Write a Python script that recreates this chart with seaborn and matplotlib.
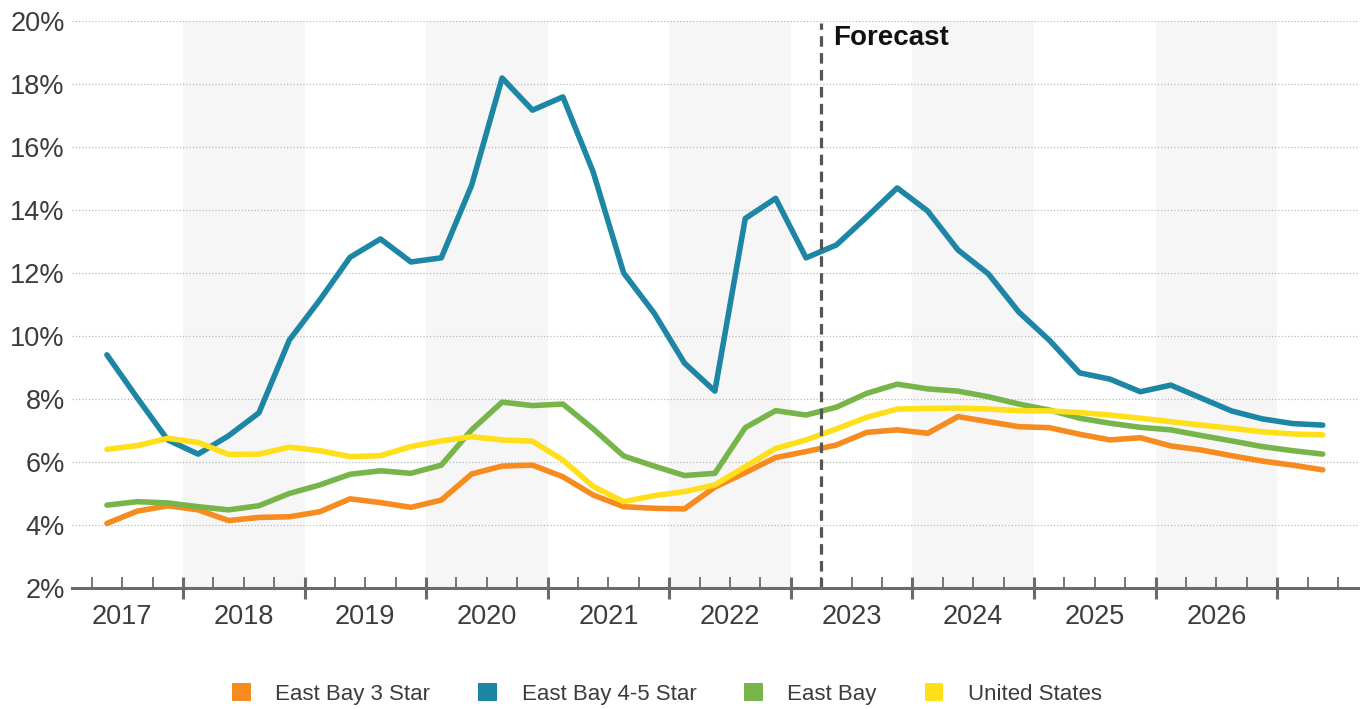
import matplotlib
matplotlib.use("Agg")
import matplotlib.pyplot as plt
import numpy as np
import pandas as pd
import seaborn as sns
from matplotlib.patches import Patch
from matplotlib.transforms import blended_transform_factory

# Quarterly vacancy rates, 2017 Q2 through 2027 Q2
quarters = [f"{2017 + k // 4} Q{k % 4 + 1}" for k in range(1, 42)]

east_bay_3_star = [
    4.05, 4.44, 4.61, 4.48, 4.14, 4.24, 4.26, 4.42, 4.83, 4.71, 4.56, 4.79,
    5.62, 5.87, 5.90, 5.53, 4.95, 4.58, 4.53, 4.51, 5.20, 5.66, 6.14, 6.33,
    6.54, 6.94, 7.02, 6.91, 7.44, 7.28, 7.12, 7.09, 6.88, 6.70, 6.77, 6.51,
    6.38, 6.20, 6.03, 5.90, 5.75,
]
east_bay_4_5_star = [
    9.40, 8.03, 6.70, 6.25, 6.83, 7.56, 9.87, 11.14, 12.50, 13.08, 12.35, 12.48,
    14.79, 18.19, 17.17, 17.59, 15.20, 12.00, 10.73, 9.14, 8.25, 13.73, 14.37, 12.48,
    12.89, 13.78, 14.70, 13.97, 12.73, 11.97, 10.76, 9.87, 8.83, 8.63, 8.23, 8.44,
    8.03, 7.62, 7.37, 7.22, 7.17,
]
east_bay = [
    4.63, 4.74, 4.70, 4.58, 4.48, 4.61, 5.00, 5.27, 5.61, 5.72, 5.64, 5.90,
    7.02, 7.90, 7.79, 7.84, 7.05, 6.19, 5.87, 5.57, 5.64, 7.09, 7.63, 7.49,
    7.74, 8.18, 8.47, 8.32, 8.25, 8.07, 7.84, 7.65, 7.39, 7.23, 7.10, 7.02,
    6.84, 6.67, 6.49, 6.36, 6.25,
]
united_states = [
    6.40, 6.52, 6.75, 6.62, 6.24, 6.25, 6.47, 6.36, 6.17, 6.20, 6.49, 6.67,
    6.80, 6.70, 6.66, 6.06, 5.22, 4.74, 4.93, 5.06, 5.27, 5.85, 6.43, 6.70,
    7.05, 7.42, 7.68, 7.70, 7.71, 7.68, 7.63, 7.62, 7.57, 7.49, 7.39, 7.28,
    7.17, 7.07, 6.96, 6.89, 6.86,
]

series_names = ["East Bay 3 Star", "East Bay 4-5 Star", "East Bay", "United States"]
series_colors = ["#F68B1F", "#1E86A5", "#77B54A", "#FFDE1A"]
years = list(range(2017, 2027))
y_ticks = [2, 4, 6, 8, 10, 12, 14, 16, 18, 20]
forecast_label = "Forecast"

sns.set_theme(style="white")
plt.rcParams["font.family"] = ["Liberation Sans", "DejaVu Sans"]

# Position on the axis: quarter index, 2017 Q1 = 0
def quarter_pos(label):
    year, q = label.split(" Q")
    return (int(year) - 2017) * 4 + int(q) - 1

wide = pd.DataFrame({
    "quarter": quarters,
    "East Bay 3 Star": east_bay_3_star,
    "East Bay 4-5 Star": east_bay_4_5_star,
    "East Bay": east_bay,
    "United States": united_states,
})
wide["pos"] = wide["quarter"].map(quarter_pos)
long = wide.melt(id_vars=["quarter", "pos"], var_name="series", value_name="rate")

fig = plt.figure(figsize=(13.68, 7.09), dpi=100)
ax = fig.add_axes([0.0524, 0.1707, 0.9403, 0.7997])

# alternating year bands
for k, yr in enumerate(years):
    if k % 2 == 1:
        ax.axvspan(k * 4 - 0.5, k * 4 + 3.5, color="#F6F6F6", zorder=0, lw=0)

# dotted horizontal gridlines
for yv in y_ticks[1:]:
    ax.axhline(yv, color="#BBBBBB", lw=0.9, ls=(0, (1, 1.6)), zorder=1)

sns.lineplot(
    data=long, x="pos", y="rate", hue="series", hue_order=series_names,
    palette=series_colors, linewidth=4.0, legend=False, ax=ax,
    solid_capstyle="round", zorder=3,
)

ax.set_xlim(-0.16, 42.16)
ax.set_ylim(2, 20)

# forecast divider
fc_pos = quarter_pos("2023 Q1") + 0.5
ax.plot([fc_pos, fc_pos], [2, 19.93], color="#555555", lw=2.3,
        ls=(0, (3.3, 2.0)), zorder=4)
ax.text(fc_pos + 0.39, 19.24, forecast_label, fontsize=20, fontweight="bold",
        color="#111111", ha="left", va="baseline", zorder=5)

# axes styling
for side in ["top", "right", "left"]:
    ax.spines[side].set_visible(False)
ax.spines["bottom"].set_color("#6B6B6B")
ax.spines["bottom"].set_linewidth(2.2)
ax.spines["bottom"].set_zorder(6)

year_bounds = [k * 4 - 0.5 for k in range(1, len(years) + 1)]
quarter_bounds = [q + 0.5 for q in range(0, 42) if (q + 0.5) not in year_bounds]
ax.set_xticks(year_bounds)
ax.set_xticks(quarter_bounds, minor=True)
ax.tick_params(axis="x", which="major", direction="inout", length=16, width=2.2,
               color="#6B6B6B", labelbottom=False, bottom=True)
ax.tick_params(axis="x", which="minor", direction="in", length=8, width=1.3,
               color="#6B6B6B", bottom=True)
ax.set_xlabel("")
ax.set_ylabel("")

ax.set_yticks(y_ticks)
ax.set_yticklabels([f"{v}%" for v in y_ticks])
ax.tick_params(axis="y", length=0, pad=5, labelsize=19.5, labelcolor="#3C3C3C")

trans = blended_transform_factory(ax.transData, ax.transAxes)
for k, yr in enumerate(years):
    ax.text(k * 4 + 1.5, -0.0520, str(yr), transform=trans, ha="center",
            va="center", fontsize=19.5, color="#3C3C3C")

handles = [Patch(facecolor=c, edgecolor="none", label=n)
           for n, c in zip(series_names, series_colors)]
fig.legend(handles=handles, loc="center", bbox_to_anchor=(0.4876, 0.021),
           ncol=4, frameon=False, fontsize=16, handlelength=0.85,
           handleheight=0.85, handletextpad=1.1, columnspacing=2.15,
           labelcolor="#3C3C3C")

fig.savefig("out.png", dpi=100)
